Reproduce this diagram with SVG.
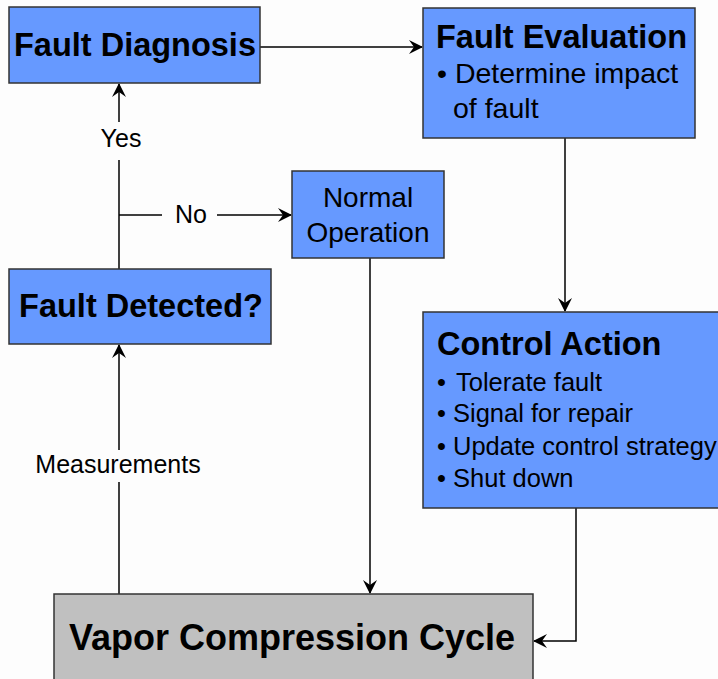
<svg xmlns="http://www.w3.org/2000/svg" width="718" height="679" viewBox="0 0 718 679">
<style>
.box{fill:#6699FF;stroke:#333;stroke-width:1.5}
.gbox{fill:#C0C0C0;stroke:#333;stroke-width:1.5}
.b{font-family:"Liberation Sans",Arial,sans-serif;font-weight:bold;fill:#000}
.r{font-family:"Liberation Sans",Arial,sans-serif;fill:#000}
.ln{stroke:#000;stroke-width:1.5;fill:none}
</style>
<defs>
<marker id="ah" viewBox="0 0 14 14" refX="13" refY="7" markerWidth="14" markerHeight="14" markerUnits="userSpaceOnUse" orient="auto">
<path d="M0,0 L14,7 L0,14 L5,7 z" fill="#000"/>
</marker>
</defs>
<rect width="718" height="679" fill="#FDFDFD"/>
<g id="connectors">
<path class="ln" d="M260,47 H422" marker-end="url(#ah)"/>
<path class="ln" d="M565,138 V311" marker-end="url(#ah)"/>
<path class="ln" d="M576,508 V641 H534" marker-end="url(#ah)"/>
<path class="ln" d="M370,258 V593" marker-end="url(#ah)"/>
<path class="ln" d="M119,269 V160"/>
<path class="ln" d="M119,122 V84" marker-end="url(#ah)"/>
<path class="ln" d="M119,215 H162"/>
<path class="ln" d="M217,215 H291" marker-end="url(#ah)"/>
<path class="ln" d="M119,594 V482"/>
<path class="ln" d="M119,450 V345" marker-end="url(#ah)"/>
<text class="r" x="121" y="147" font-size="25" text-anchor="middle">Yes</text>
<text class="r" x="191" y="223" font-size="25" text-anchor="middle">No</text>
<text class="r" x="118" y="473" font-size="25" text-anchor="middle">Measurements</text>
</g>
<g id="fault-diagnosis">
<rect class="box" x="9" y="7" width="251" height="76"/>
<text class="b" x="135" y="56" font-size="32.5" text-anchor="middle">Fault Diagnosis</text>
</g>
<g id="fault-evaluation">
<rect class="box" x="423" y="8" width="272" height="130"/>
<text class="b" x="436" y="48" font-size="32.5">Fault Evaluation</text>
<text class="r" x="437" y="83" font-size="28.5">• Determine impact</text>
<text class="r" x="453" y="118" font-size="28.5">of fault</text>
</g>
<g id="normal-operation">
<rect class="box" x="292" y="171" width="152" height="87"/>
<text class="r" x="368" y="207" font-size="28" text-anchor="middle">Normal</text>
<text class="r" x="368" y="242" font-size="28" text-anchor="middle">Operation</text>
</g>
<g id="fault-detected">
<rect class="box" x="9" y="269" width="262" height="75"/>
<text class="b" x="141" y="317" font-size="32.5" text-anchor="middle">Fault Detected?</text>
</g>
<g id="control-action">
<rect class="box" x="423" y="312" width="300" height="196"/>
<text class="b" x="437" y="355" font-size="32.5">Control Action</text>
<text class="r" x="437" y="391" font-size="25.5">• <tspan x="456">Tolerate fault</tspan></text>
<text class="r" x="437" y="422" font-size="25.5">• Signal for repair</text>
<text class="r" x="437" y="455" font-size="25.5">• Update control strategy</text>
<text class="r" x="437" y="487" font-size="25.5">• Shut down</text>
</g>
<g id="vapor-compression-cycle">
<rect class="gbox" x="54" y="594" width="479" height="90"/>
<text class="b" x="292" y="650" font-size="36" text-anchor="middle">Vapor Compression Cycle</text>
</g>
</svg>
